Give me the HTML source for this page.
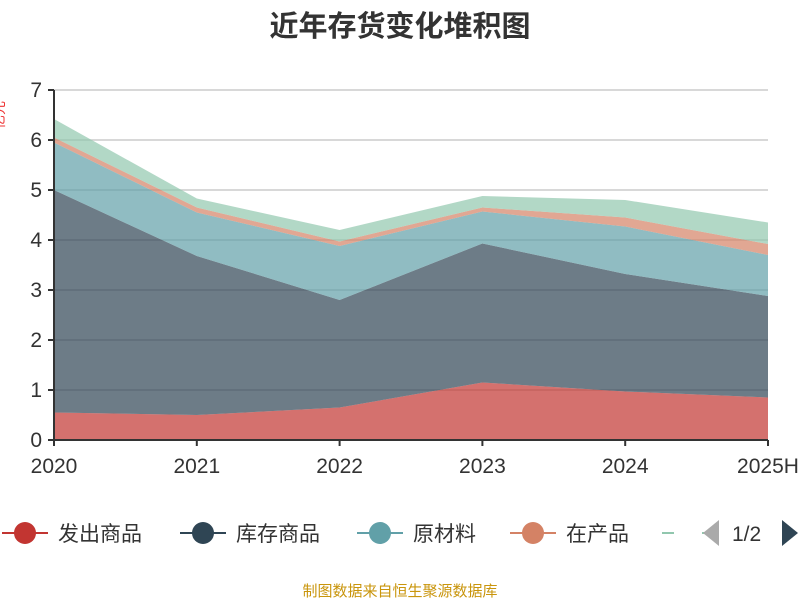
<!DOCTYPE html>
<html><head><meta charset="utf-8">
<style>
body{margin:0;background:#fff;width:800px;height:600px;overflow:hidden;font-family:"Liberation Sans","Noto Sans CJK SC",sans-serif;}
</style></head>
<body>
<svg id="chart" width="800" height="600" font-family="Liberation Sans, Noto Sans CJK SC, sans-serif">
<text x="400" y="36" text-anchor="middle" font-size="29" font-weight="bold" fill="#333">近年存货变化堆积图</text>
<text transform="translate(4,115) rotate(-90)" text-anchor="middle" font-size="14" fill="#e33">亿元</text>
<g id="grid"></g>
<g id="areas"></g>
<g id="axes"></g>
<g id="legend"></g>
<text x="400" y="596" text-anchor="middle" font-size="15" fill="#c9950c">制图数据来自恒生聚源数据库</text>
</svg>
<script>
const categories=["2020","2021","2022","2023","2024","2025H"];
const seriesNames=["发出商品","库存商品","原材料","在产品","其他"];
const s1=[0.55,0.5,0.65,1.15,0.97,0.85];
const s2=[4.45,3.18,2.15,2.78,2.35,2.03];
const s3=[0.95,0.87,1.08,0.64,0.95,0.82];
const s4=[0.1,0.1,0.09,0.08,0.18,0.22];
const s5=[0.37,0.18,0.23,0.23,0.35,0.43];
const yTicks=[0,1,2,3,4,5,6,7];
const colors=["#c23531","#2f4554","#61a0a8","#d48265","#91c7ae"];
const NS="http://www.w3.org/2000/svg";
const x0=54,x1=768,y0=440,y1=90,yMax=7;
const xs=i=>x0+i*(x1-x0)/(categories.length-1);
const ys=v=>y0-v*(y0-y1)/yMax;
function mk(tag,attrs,parent){const e=document.createElementNS(NS,tag);for(const k in attrs)e.setAttribute(k,attrs[k]);parent.appendChild(e);return e;}
const grid=document.getElementById('grid'),areas=document.getElementById('areas'),axes=document.getElementById('axes'),legend=document.getElementById('legend');
yTicks.forEach(t=>{
 if(t>0){const l=mk('line',{x1:x0,x2:x1,y1:ys(t),y2:ys(t),stroke:'#ccc','stroke-width':1.5},grid);
 
 }
 const tk=mk('line',{x1:x0-6,x2:x0,y1:ys(t),y2:ys(t),stroke:'#333','stroke-width':2},axes);
 
 
 const tx=mk('text',{x:x0-12,y:ys(t)+7,'text-anchor':'end','font-size':21,fill:'#333'},axes);tx.textContent=t;
 
 
});
const series=[s1,s2,s3,s4,s5];
let base=categories.map(()=>0);
series.forEach((s,k)=>{
 const top=s.map((v,i)=>base[i]+v);
 let d='M'+categories.map((c,i)=>xs(i)+','+ys(top[i])).join('L');
 for(let i=categories.length-1;i>=0;i--)d+='L'+xs(i)+','+ys(base[i]);
 const p=mk('path',{d:d+'Z',fill:colors[k],'fill-opacity':0.7},areas);
 
 
 base=top;
});
const ax=mk('line',{x1:x0,x2:x0,y1:y1,y2:y0,stroke:'#333','stroke-width':2},axes);


const xa=mk('line',{x1:x0,x2:x1,y1:y0,y2:y0,stroke:'#333','stroke-width':2},axes);


categories.forEach((c,i)=>{
 const tk=mk('line',{x1:xs(i),x2:xs(i),y1:y0,y2:y0+6,stroke:'#333','stroke-width':2},axes);
 
 
 const tx=mk('text',{x:xs(i),y:y0+33,'text-anchor':'middle','font-size':21,fill:'#333'},axes);tx.textContent=c;
 
 
});
const lx=[2,180,357,510,662];
for(let k=0;k<5;k++){
 const g=mk('g',{},legend);
 
 
 mk('line',{x1:lx[k],x2:lx[k]+46,y1:533,y2:533,stroke:colors[k],'stroke-width':2},g);
 mk('circle',{cx:lx[k]+23,cy:533,r:11,fill:colors[k]},g);
 if(k<4){const t=mk('text',{x:lx[k]+56,y:541,'font-size':21,fill:'#333'},g);t.textContent=seriesNames[k];}
}
mk('rect',{x:674,y:515,width:28,height:36,fill:'#fff'},legend);
const pl=mk('polygon',{points:'703,533 719,520 719,546',fill:'#aaa'},legend);


const pt=mk('text',{x:732,y:541,'font-size':21,fill:'#333'},legend);pt.textContent='1/2';


const pn=mk('polygon',{points:'782,520 798,533 782,546',fill:'#2f4554'},legend);


</script>
</body></html>
